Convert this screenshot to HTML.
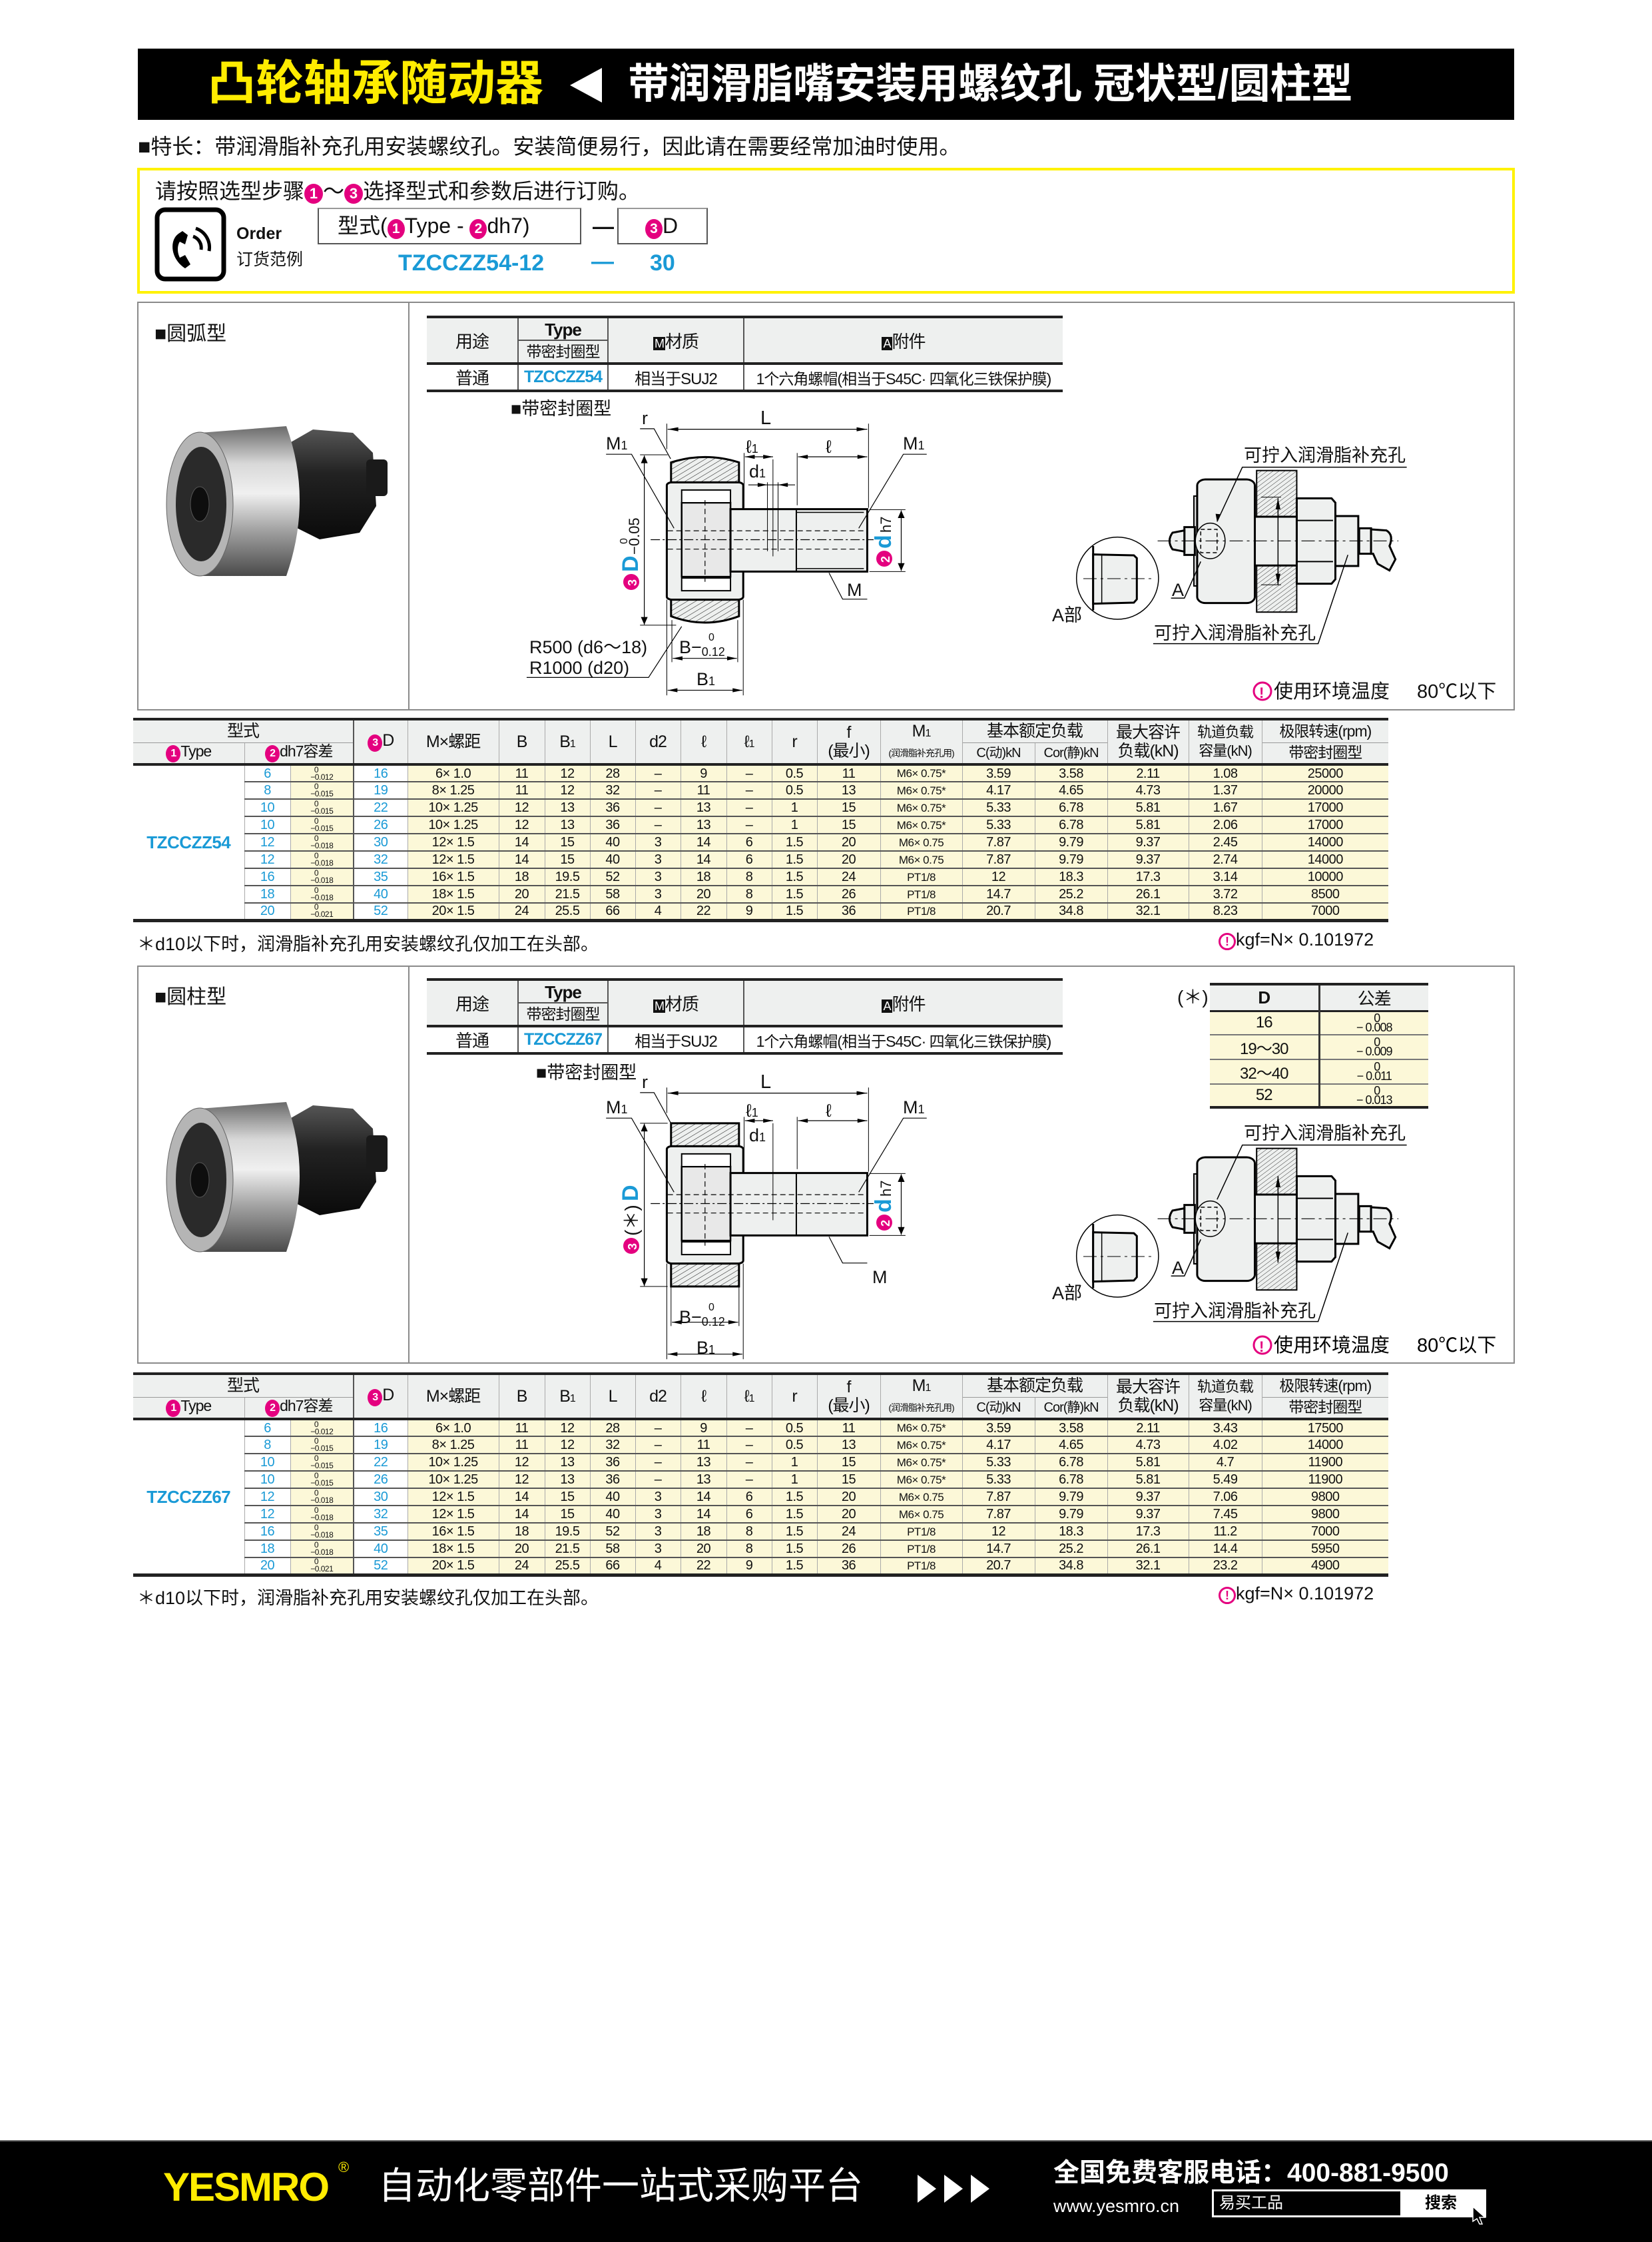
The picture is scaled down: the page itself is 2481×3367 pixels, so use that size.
<!DOCTYPE html>
<html><head><meta charset="utf-8">
<style>
*{margin:0;padding:0;box-sizing:border-box}
body{width:2481px;height:3367px;position:relative;background:#fff;font-family:"Liberation Sans","Noto Sans CJK SC",sans-serif;color:#111;overflow:hidden}
.a{position:absolute;white-space:nowrap}
.n{display:inline-block;border-radius:50%;background:#e4007f;color:#fff;text-align:center;font-weight:bold}
.cy{color:#1a9ad6}
.box{position:absolute;border:2px solid #8a8a8a}
.t{position:absolute;border-collapse:collapse;table-layout:fixed;font-family:"Liberation Sans","Noto Sans CJK SC",sans-serif}
.t td{padding:0;text-align:center;vertical-align:middle;border-left:1px solid #aaa;border-top:2px solid #555;font-size:20px;line-height:1;overflow:hidden;white-space:nowrap;letter-spacing:-0.5px}
.t tr.h td{background:#eef0ef;border-top:none;font-size:25px;letter-spacing:-1px}
.t tr.h2 td{background:#eef0ef;border-top:1px solid #999;font-size:23px;letter-spacing:-1px}
.t td.c{background:#fcf8d8}
.t td.w{background:#fff}
.tol{display:inline-block;font-size:12px;line-height:11px;text-align:left;vertical-align:middle}
.s{font-size:17px!important;letter-spacing:-1px}
.sp{position:absolute;border-collapse:collapse;table-layout:fixed;border-top:4px solid #222;border-bottom:4px solid #222}
.sp td{text-align:center;border-left:2px solid #555;font-size:24px;padding:0;white-space:nowrap;letter-spacing:-1px}
.sp td:first-child{border-left:none}
</style></head><body>

<div class="a" style="left:207px;top:73px;width:2067px;height:107px;background:#000"></div>
<div class="a" style="left:312px;top:84px;font-size:72px;font-weight:bold;color:#ffec00;line-height:84px">凸轮轴承随动器</div>
<svg class="a" style="left:852px;top:98px" width="56" height="60"><polygon points="52,4 52,56 4,30" fill="#fff"/></svg>
<div class="a" style="left:943px;top:91px;font-size:62px;font-weight:bold;color:#fff;line-height:72px">带润滑脂嘴安装用螺纹孔 冠状型/圆柱型</div>

<div class="a" style="left:207px;top:200px;font-size:32px;line-height:40px">■特长：带润滑脂补充孔用安装螺纹孔。安装简便易行，因此请在需要经常加油时使用。</div>

<div class="a" style="left:206px;top:252px;width:2069px;height:189px;border:4px solid #fff200"></div>
<div class="a" style="left:233px;top:268px;font-size:32px;line-height:38px">请按照选型步骤<span class="n" style="width:28px;height:30px;font-size:22px;line-height:30px">1</span>～<span class="n" style="width:28px;height:30px;font-size:22px;line-height:30px">3</span>选择型式和参数后进行订购。</div>
<svg class="a" style="left:232px;top:311px" width="110" height="112"><rect x="4" y="4" width="100" height="104" rx="12" fill="#fff" stroke="#000" stroke-width="7"/><path d="M36,40 C22,50 24,78 46,92 L54,86 L46,72 L38,76 C34,68 34,58 38,52 L46,56 L50,42 L42,36 Z" fill="#000"/><path d="M58,44 A18,18 0 0 1 70,64" fill="none" stroke="#000" stroke-width="5"/><path d="M62,32 A30,30 0 0 1 82,66" fill="none" stroke="#000" stroke-width="5"/></svg>
<div class="a" style="left:355px;top:337px;font-size:25px;font-weight:bold">Order</div>
<div class="a" style="left:355px;top:370px;font-size:25px">订货范例</div>
<div class="a" style="left:477px;top:312px;width:396px;height:55px;border:2px solid #555;border-top-color:#999;font-size:32px;line-height:50px;padding-left:28px">型式(<span class="n" style="width:26px;height:30px;font-size:21px;line-height:30px">1</span>Type - <span class="n" style="width:26px;height:30px;font-size:21px;line-height:30px">2</span>dh7)</div>
<div class="a" style="left:890px;top:322px;font-size:32px;font-weight:bold">—</div>
<div class="a" style="left:927px;top:312px;width:136px;height:55px;border:2px solid #555;border-top-color:#999;font-size:32px;line-height:50px;padding-left:40px"><span class="n" style="width:26px;height:30px;font-size:21px;line-height:30px">3</span>D</div>
<div class="a cy" style="left:598px;top:376px;font-size:34px;font-weight:bold">TZCCZZ54-12</div>
<div class="a cy" style="left:888px;top:374px;font-size:34px;font-weight:bold">—</div>
<div class="a cy" style="left:976px;top:376px;font-size:34px;font-weight:bold">30</div>

<svg width="0" height="0" style="position:absolute">
<defs>
<pattern id="hatch" width="14" height="14" patternUnits="userSpaceOnUse" patternTransform="rotate(45)"><rect width="14" height="14" fill="#eef0ef"/><line x1="0" y1="0" x2="0" y2="14" stroke="#000" stroke-width="2"/></pattern>
<linearGradient id="silver" x1="0" y1="0" x2="0" y2="1"><stop offset="0" stop-color="#6a6a6a"/><stop offset="0.25" stop-color="#d8d8d8"/><stop offset="0.45" stop-color="#f0f0f0"/><stop offset="0.7" stop-color="#a0a0a0"/><stop offset="1" stop-color="#4a4a4a"/></linearGradient>
<linearGradient id="nut" x1="0" y1="0" x2="0" y2="1"><stop offset="0" stop-color="#555"/><stop offset="0.4" stop-color="#222"/><stop offset="1" stop-color="#0a0a0a"/></linearGradient>
<symbol id="photo" viewBox="0 0 700 1100">
<polygon points="430,668 470,645 530,650 560,680 565,760 540,800 480,810 440,790" fill="url(#nut)"/>
<rect x="550" y="690" width="32" height="55" rx="6" fill="#1a1a1a"/>
<path d="M300,650 L430,640 Q470,750 430,865 L300,865 Z" fill="url(#silver)"/>
<ellipse cx="300" cy="757" rx="50" ry="108" fill="#b5b5b5" stroke="#666"/>
<ellipse cx="302" cy="757" rx="38" ry="86" fill="#2a2a2a"/>
<ellipse cx="300" cy="757" rx="14" ry="26" fill="#0e0e0e" stroke="#555"/>
</symbol>
</defs></svg>

<!-- SECTION 1 -->
<div class="box" style="left:206px;top:453px;width:2069px;height:614px"></div>
<div class="a" style="left:613px;top:453px;width:2px;height:614px;background:#8a8a8a"></div>
<div class="a" style="left:232px;top:476px;font-size:30px">■圆弧型</div>
<svg class="a" style="left:0;top:0" width="700" height="1100"><use href="#photo" x="0" y="0" width="700" height="1100"/></svg>

<table class="sp" style="left:641px;top:474px;width:955px">
<colgroup><col style="width:137px"><col style="width:135px"><col style="width:204px"><col style="width:479px"></colgroup>
<tr style="height:68px;background:#eef0ef;border-bottom:4px solid #222"><td style="font-size:26px">用途</td><td style="padding:0"><div style="height:34px;line-height:34px;font-size:26px;font-weight:bold;border-bottom:2px solid #555">Type</div><div style="height:32px;line-height:32px;font-size:23px">带密封圈型</div></td><td style="font-size:26px"><span style="background:#111;color:#fff;font-size:18px;padding:0 2px">M</span>材质</td><td style="font-size:26px"><span style="background:#111;color:#fff;font-size:18px;padding:0 2px">A</span>附件</td></tr>
<tr style="height:40px"><td style="font-size:26px">普通</td><td class="cy" style="font-size:25px;font-weight:bold">TZCCZZ54</td><td>相当于SUJ2</td><td style="font-size:23px">1个六角螺帽(相当于S45C· 四氧化三铁保护膜)</td></tr>
</table>

<svg class="a" style="left:0;top:0" width="2481" height="2200" font-family="Liberation Sans, Noto Sans CJK SC, sans-serif">
<g transform="translate(620,460) scale(0.6378,0.3831)" fill="none" stroke="#000">
<rect x="598" y="690" width="180" height="460" rx="12" fill="#eef0ef" stroke-width="3" vector-effect="non-scaling-stroke"/>
<path d="M608,612 Q688,570 768,612 L768,690 L608,690 Z" fill="url(#hatch)" stroke-width="3" vector-effect="non-scaling-stroke"/>
<path d="M608,1150 L768,1150 L768,1215 Q688,1265 608,1215 Z" fill="url(#hatch)" stroke-width="3" vector-effect="non-scaling-stroke"/>
<rect x="633" y="770" width="115" height="290" fill="#e8e8e8" stroke-width="2.5" vector-effect="non-scaling-stroke"/>
<rect x="633" y="720" width="115" height="50" fill="#fff" stroke-width="2" vector-effect="non-scaling-stroke"/>
<rect x="633" y="1065" width="115" height="50" fill="#fff" stroke-width="2" vector-effect="non-scaling-stroke"/>
<rect x="748" y="795" width="322" height="245" fill="#eef0ef" stroke-width="3" vector-effect="non-scaling-stroke"/>
<line x1="903" y1="795" x2="903" y2="1040" stroke-width="2" vector-effect="non-scaling-stroke"/>
<line x1="903" y1="808" x2="1062" y2="808" stroke-width="1.5" vector-effect="non-scaling-stroke"/>
<line x1="903" y1="1028" x2="1062" y2="1028" stroke-width="1.5" vector-effect="non-scaling-stroke"/>
<line x1="560" y1="915" x2="1085" y2="915" stroke-width="1.2" stroke-dasharray="14,4,3,4" vector-effect="non-scaling-stroke"/>
<line x1="600" y1="880" x2="1065" y2="880" stroke-width="1.2" stroke-dasharray="8,5" vector-effect="non-scaling-stroke"/>
<line x1="600" y1="952" x2="1065" y2="952" stroke-width="1.2" stroke-dasharray="8,5" vector-effect="non-scaling-stroke"/>
<line x1="688" y1="760" x2="688" y2="1080" stroke-width="1.2" stroke-dasharray="8,5" vector-effect="non-scaling-stroke"/>
<line x1="835" y1="690" x2="835" y2="960" stroke-width="1" vector-effect="non-scaling-stroke"/>
<line x1="860" y1="690" x2="860" y2="960" stroke-width="1" vector-effect="non-scaling-stroke"/>
<line x1="848" y1="600" x2="848" y2="980" stroke-width="1" vector-effect="non-scaling-stroke"/>
<line x1="598" y1="460" x2="598" y2="560" stroke-width="1" vector-effect="non-scaling-stroke"/>
<line x1="1073" y1="460" x2="1073" y2="790" stroke-width="1" vector-effect="non-scaling-stroke"/>
<line x1="600" y1="482" x2="1070" y2="482" stroke-width="1.2" vector-effect="non-scaling-stroke"/>
<line x1="780" y1="575" x2="780" y2="790" stroke-width="1" vector-effect="non-scaling-stroke"/>
<line x1="905" y1="575" x2="905" y2="780" stroke-width="1" vector-effect="non-scaling-stroke"/>
<line x1="782" y1="590" x2="848" y2="590" stroke-width="1.2" vector-effect="non-scaling-stroke"/>
<line x1="907" y1="590" x2="1070" y2="590" stroke-width="1.2" vector-effect="non-scaling-stroke"/>
<line x1="790" y1="700" x2="900" y2="700" stroke-width="1.2" vector-effect="non-scaling-stroke"/>
<line x1="535" y1="582" x2="600" y2="582" stroke-width="1" vector-effect="non-scaling-stroke"/>
<line x1="535" y1="1250" x2="620" y2="1250" stroke-width="1" vector-effect="non-scaling-stroke"/>
<line x1="545" y1="585" x2="545" y2="1248" stroke-width="1.2" vector-effect="non-scaling-stroke"/>
<line x1="1075" y1="797" x2="1160" y2="797" stroke-width="1" vector-effect="non-scaling-stroke"/>
<line x1="1075" y1="1040" x2="1160" y2="1040" stroke-width="1" vector-effect="non-scaling-stroke"/>
<line x1="1150" y1="800" x2="1150" y2="1037" stroke-width="1.2" vector-effect="non-scaling-stroke"/>
<line x1="610" y1="1230" x2="610" y2="1395" stroke-width="1" vector-effect="non-scaling-stroke"/>
<line x1="765" y1="1230" x2="765" y2="1395" stroke-width="1" vector-effect="non-scaling-stroke"/>
<line x1="598" y1="1150" x2="598" y2="1525" stroke-width="1" vector-effect="non-scaling-stroke"/>
<line x1="778" y1="1150" x2="778" y2="1525" stroke-width="1" vector-effect="non-scaling-stroke"/>
<line x1="612" y1="1380" x2="763" y2="1380" stroke-width="1.2" vector-effect="non-scaling-stroke"/>
<line x1="600" y1="1505" x2="776" y2="1505" stroke-width="1.2" vector-effect="non-scaling-stroke"/>
<polyline points="455,580 515,580 615,870" stroke-width="1.2" vector-effect="non-scaling-stroke"/>
<polyline points="1210,580 1155,580 1050,870" stroke-width="1.2" vector-effect="non-scaling-stroke"/>
<polyline points="535,480 568,480 607,598" stroke-width="1.2" vector-effect="non-scaling-stroke"/>
<polyline points="1070,1148 1012,1148 980,1045" stroke-width="1.2" vector-effect="non-scaling-stroke"/>
<polyline points="268,1455 555,1455 633,1255" stroke-width="1.2" vector-effect="non-scaling-stroke"/>
<g fill="#000" stroke="none">
<polygon points="600,482 625,474 625,490"/><polygon points="1070,482 1045,474 1045,490"/>
<polygon points="782,590 805,582 805,598"/><polygon points="848,590 825,582 825,598"/>
<polygon points="907,590 930,582 930,598"/><polygon points="1070,590 1047,582 1047,598"/>
<polygon points="835,700 812,692 812,708"/><polygon points="860,700 883,692 883,708"/>
<polygon points="545,585 537,615 553,615"/><polygon points="545,1248 537,1218 553,1218"/>
<polygon points="1150,800 1142,830 1158,830"/><polygon points="1150,1037 1142,1007 1158,1007"/>
<polygon points="612,1380 635,1372 635,1388"/><polygon points="763,1380 740,1372 740,1388"/>
<polygon points="600,1505 623,1497 623,1513"/><polygon points="776,1505 753,1497 753,1513"/>
</g>
</g>
<g font-size="27" fill="#111">
<text x="767" y="623">■带密封圈型</text>
<text x="964" y="637">r</text>
<text x="1142" y="637" font-size="29">L</text>
<text x="910" y="675">M<tspan font-size="18">1</tspan></text>
<text x="1120" y="680">ℓ<tspan font-size="18">1</tspan></text>
<text x="1240" y="680">ℓ</text>
<text x="1356" y="675">M<tspan font-size="18">1</tspan></text>
<text x="1125" y="717">d<tspan font-size="18">1</tspan></text>
<text x="1272" y="895">M</text>
<text x="1020" y="981">B−<tspan font-size="18" dy="4">0.12</tspan></text>
<text x="1064" y="962" font-size="16">0</text>
<text x="1046" y="1029">B<tspan font-size="18">1</tspan></text>
<text x="795" y="981">R500 (d6～18)</text>
<text x="795" y="1012">R1000 (d20)</text>
<g transform="translate(958,885) rotate(-90)"><circle cx="11" cy="-10" r="12" fill="#e4007f"/><text x="5" y="-2" font-size="18" fill="#fff" font-weight="bold">3</text><text x="26" y="0" font-size="34" font-weight="bold" fill="#1a9ad6">D</text><text x="52" y="2" font-size="22">−0.05</text><text x="68" y="-16" font-size="16">0</text></g>
<g transform="translate(1338,850) rotate(-90)"><circle cx="11" cy="-10" r="12" fill="#e4007f"/><text x="5" y="-2" font-size="18" fill="#fff" font-weight="bold">2</text><text x="26" y="0" font-size="34" font-weight="bold" fill="#1a9ad6">d</text><text x="50" y="0" font-size="22">h7</text></g>
</g>

<g transform="translate(1560,640) scale(0.4464,0.3333)" stroke="#000" fill="none">
<rect x="522" y="315" width="14" height="405" fill="#ddd" stroke-width="2" vector-effect="non-scaling-stroke"/>
<rect x="533" y="240" width="194" height="557" rx="28" fill="#eef0ef" stroke-width="3" vector-effect="non-scaling-stroke"/>
<rect x="733" y="200" width="135" height="638" fill="url(#hatch)" stroke-width="2" vector-effect="non-scaling-stroke"/>
<rect x="727" y="408" width="141" height="220" fill="#eef0ef" stroke-width="3" vector-effect="non-scaling-stroke"/>
<path d="M868,325 L985,325 L998,345 L998,690 L985,710 L868,710 Z" fill="#eef0ef" stroke-width="3" vector-effect="non-scaling-stroke"/>
<line x1="868" y1="425" x2="990" y2="425" stroke-width="2" vector-effect="non-scaling-stroke"/>
<line x1="868" y1="610" x2="990" y2="610" stroke-width="2" vector-effect="non-scaling-stroke"/>
<rect x="998" y="405" width="77" height="225" fill="#eef0ef" stroke-width="3" vector-effect="non-scaling-stroke"/>
<rect x="1078" y="460" width="40" height="115" fill="#eef0ef" stroke-width="3" vector-effect="non-scaling-stroke"/>
<path d="M1118,465 L1170,470 Q1195,490 1180,540 L1200,600 L1180,650 L1140,620 L1125,575 L1118,575 Z" fill="#eef0ef" stroke-width="3" vector-effect="non-scaling-stroke"/>
<rect x="490" y="455" width="35" height="125" fill="#eef0ef" stroke-width="3" vector-effect="non-scaling-stroke"/>
<path d="M490,470 L450,480 Q430,517 450,555 L490,565 Z" fill="#eef0ef" stroke-width="3" vector-effect="non-scaling-stroke"/>
<ellipse cx="577" cy="517" rx="50" ry="80" fill="#eef0ef" stroke-width="1.5" vector-effect="non-scaling-stroke"/>
<rect x="545" y="465" width="55" height="105" stroke-dasharray="6,4" stroke-width="1.5" vector-effect="non-scaling-stroke"/>
<line x1="400" y1="517" x2="1210" y2="517" stroke-width="1.2" stroke-dasharray="20,6,4,6" vector-effect="non-scaling-stroke"/>
<line x1="805" y1="325" x2="805" y2="715" stroke-width="1.5" vector-effect="non-scaling-stroke"/>
<line x1="748" y1="320" x2="815" y2="320" stroke-width="1" vector-effect="non-scaling-stroke"/>
<line x1="748" y1="715" x2="815" y2="715" stroke-width="1" vector-effect="non-scaling-stroke"/>
<ellipse cx="265" cy="685" rx="138" ry="185" fill="#fff" stroke-width="1.5" vector-effect="non-scaling-stroke"/>
<line x1="183" y1="540" x2="183" y2="830" stroke-width="3" vector-effect="non-scaling-stroke"/>
<path d="M183,578 L320,582 L330,595 L330,780 L320,795 L183,800 Z" fill="#eef0ef" stroke-width="3" vector-effect="non-scaling-stroke"/>
<line x1="212" y1="582" x2="212" y2="798" stroke-width="1.5" vector-effect="non-scaling-stroke"/>
<line x1="150" y1="687" x2="380" y2="687" stroke-width="1" stroke-dasharray="20,6,4,6" vector-effect="non-scaling-stroke"/>
<polyline points="1238,185 685,185 600,430" stroke-width="1.5" vector-effect="non-scaling-stroke"/>
<polyline points="385,980 940,980 1040,580" stroke-width="1.5" vector-effect="non-scaling-stroke"/>
<polyline points="445,775 490,775 545,610" stroke-width="1.5" vector-effect="non-scaling-stroke"/>
<g fill="#000" stroke="none"><polygon points="805,325 797,375 813,375"/><polygon points="805,715 797,665 813,665"/><polygon points="600,430 595,395 612,397"/></g>
</g>
<g font-size="27" fill="#111">
<text x="1868" y="693">可拧入润滑脂补充孔</text>
<text x="1733" y="960">可拧入润滑脂补充孔</text>
<text x="1760" y="895">A</text>
<text x="1580" y="933">A部</text>
</g>
<g font-size="29" fill="#111">
<circle cx="1896" cy="1038" r="13" fill="none" stroke="#e4007f" stroke-width="3"/><text x="1891" y="1048" font-size="22" fill="#e4007f" font-weight="bold">!</text>
<text x="1913" y="1048">使用环境温度</text><text x="2128" y="1048">80℃以下</text>
</g>
</svg>

<!-- Table 1 -->
<table class="t" style="left:200px;top:1078px;width:1885px;border-top:4px solid #222;border-bottom:5px solid #222">
<colgroup><col style="width:167px"><col style="width:69px"><col style="width:95px"><col style="width:81px"><col style="width:137px"><col style="width:69px"><col style="width:68px"><col style="width:68px"><col style="width:68px"><col style="width:69px"><col style="width:68px"><col style="width:68px"><col style="width:95px"><col style="width:123px"><col style="width:109px"><col style="width:109px"><col style="width:122px"><col style="width:110px"><col style="width:190px"></colgroup>
<tr class="h" style="height:35px"><td colspan="3" style="border-left:none">型式</td><td rowspan="2" style="border-left:2px solid #555"><span class="n" style="width:22px;height:26px;font-size:16px;line-height:26px">3</span>D</td><td rowspan="2">M×螺距</td><td rowspan="2">B</td><td rowspan="2">B<span style="font-size:16px">1</span></td><td rowspan="2">L</td><td rowspan="2">d2</td><td rowspan="2">ℓ</td><td rowspan="2">ℓ<span style="font-size:16px">1</span></td><td rowspan="2">r</td><td rowspan="2" style="line-height:28px">f<br>(最小)</td><td rowspan="2" style="line-height:26px">M<span style="font-size:16px">1</span><br><span style="font-size:14px">(润滑脂补充孔用)</span></td><td colspan="2">基本额定负载</td><td rowspan="2" style="line-height:28px">最大容许<br>负载(kN)</td><td rowspan="2" style="line-height:28px;font-size:22px">轨道负载<br>容量(kN)</td><td style="font-size:23px">极限转速(rpm)</td></tr>
<tr class="h2" style="height:33px"><td style="border-left:none"><span class="n" style="width:22px;height:26px;font-size:16px;line-height:26px">1</span>Type</td><td colspan="2"><span class="n" style="width:22px;height:26px;font-size:16px;line-height:26px">2</span>dh7容差</td><td style="font-size:20px">C(动)kN</td><td style="font-size:20px">Cor(静)kN</td><td>带密封圈型</td></tr>
<tr style="height:26px"><td rowspan="9" class="cy w" style="font-size:26px;font-weight:bold;border-left:none;border-top:4px solid #222">TZCCZZ54</td><td class="cy w" style="border-top:4px solid #222">6</td><td class="c" style="border-top:4px solid #222"><span class="tol">&nbsp;&nbsp;0<br>−0.012</span></td><td class="cy w" style="border-top:4px solid #222;border-left:2px solid #555">16</td><td class="c" style="border-top:4px solid #222">6× 1.0</td><td class="c" style="border-top:4px solid #222">11</td><td class="c" style="border-top:4px solid #222">12</td><td class="c" style="border-top:4px solid #222">28</td><td class="c" style="border-top:4px solid #222">–</td><td class="c" style="border-top:4px solid #222">9</td><td class="c" style="border-top:4px solid #222">–</td><td class="c" style="border-top:4px solid #222">0.5</td><td class="c" style="border-top:4px solid #222">11</td><td class="c s" style="border-top:4px solid #222">M6× 0.75*</td><td class="c" style="border-top:4px solid #222">3.59</td><td class="c" style="border-top:4px solid #222">3.58</td><td class="c" style="border-top:4px solid #222">2.11</td><td class="c" style="border-top:4px solid #222">1.08</td><td class="c" style="border-top:4px solid #222">25000</td></tr>
<tr style="height:26px"><td class="cy w">8</td><td class="c"><span class="tol">&nbsp;&nbsp;0<br>−0.015</span></td><td class="cy w" style="border-left:2px solid #555">19</td><td class="c">8× 1.25</td><td class="c">11</td><td class="c">12</td><td class="c">32</td><td class="c">–</td><td class="c">11</td><td class="c">–</td><td class="c">0.5</td><td class="c">13</td><td class="c s">M6× 0.75*</td><td class="c">4.17</td><td class="c">4.65</td><td class="c">4.73</td><td class="c">1.37</td><td class="c">20000</td></tr>
<tr style="height:26px"><td class="cy w">10</td><td class="c"><span class="tol">&nbsp;&nbsp;0<br>−0.015</span></td><td class="cy w" style="border-left:2px solid #555">22</td><td class="c">10× 1.25</td><td class="c">12</td><td class="c">13</td><td class="c">36</td><td class="c">–</td><td class="c">13</td><td class="c">–</td><td class="c">1</td><td class="c">15</td><td class="c s">M6× 0.75*</td><td class="c">5.33</td><td class="c">6.78</td><td class="c">5.81</td><td class="c">1.67</td><td class="c">17000</td></tr>
<tr style="height:26px"><td class="cy w">10</td><td class="c"><span class="tol">&nbsp;&nbsp;0<br>−0.015</span></td><td class="cy w" style="border-left:2px solid #555">26</td><td class="c">10× 1.25</td><td class="c">12</td><td class="c">13</td><td class="c">36</td><td class="c">–</td><td class="c">13</td><td class="c">–</td><td class="c">1</td><td class="c">15</td><td class="c s">M6× 0.75*</td><td class="c">5.33</td><td class="c">6.78</td><td class="c">5.81</td><td class="c">2.06</td><td class="c">17000</td></tr>
<tr style="height:26px"><td class="cy w">12</td><td class="c"><span class="tol">&nbsp;&nbsp;0<br>−0.018</span></td><td class="cy w" style="border-left:2px solid #555">30</td><td class="c">12× 1.5</td><td class="c">14</td><td class="c">15</td><td class="c">40</td><td class="c">3</td><td class="c">14</td><td class="c">6</td><td class="c">1.5</td><td class="c">20</td><td class="c s">M6× 0.75</td><td class="c">7.87</td><td class="c">9.79</td><td class="c">9.37</td><td class="c">2.45</td><td class="c">14000</td></tr>
<tr style="height:26px"><td class="cy w">12</td><td class="c"><span class="tol">&nbsp;&nbsp;0<br>−0.018</span></td><td class="cy w" style="border-left:2px solid #555">32</td><td class="c">12× 1.5</td><td class="c">14</td><td class="c">15</td><td class="c">40</td><td class="c">3</td><td class="c">14</td><td class="c">6</td><td class="c">1.5</td><td class="c">20</td><td class="c s">M6× 0.75</td><td class="c">7.87</td><td class="c">9.79</td><td class="c">9.37</td><td class="c">2.74</td><td class="c">14000</td></tr>
<tr style="height:26px"><td class="cy w">16</td><td class="c"><span class="tol">&nbsp;&nbsp;0<br>−0.018</span></td><td class="cy w" style="border-left:2px solid #555">35</td><td class="c">16× 1.5</td><td class="c">18</td><td class="c">19.5</td><td class="c">52</td><td class="c">3</td><td class="c">18</td><td class="c">8</td><td class="c">1.5</td><td class="c">24</td><td class="c s">PT1/8</td><td class="c">12</td><td class="c">18.3</td><td class="c">17.3</td><td class="c">3.14</td><td class="c">10000</td></tr>
<tr style="height:26px"><td class="cy w">18</td><td class="c"><span class="tol">&nbsp;&nbsp;0<br>−0.018</span></td><td class="cy w" style="border-left:2px solid #555">40</td><td class="c">18× 1.5</td><td class="c">20</td><td class="c">21.5</td><td class="c">58</td><td class="c">3</td><td class="c">20</td><td class="c">8</td><td class="c">1.5</td><td class="c">26</td><td class="c s">PT1/8</td><td class="c">14.7</td><td class="c">25.2</td><td class="c">26.1</td><td class="c">3.72</td><td class="c">8500</td></tr>
<tr style="height:26px"><td class="cy w">20</td><td class="c"><span class="tol">&nbsp;&nbsp;0<br>−0.021</span></td><td class="cy w" style="border-left:2px solid #555">52</td><td class="c">20× 1.5</td><td class="c">24</td><td class="c">25.5</td><td class="c">66</td><td class="c">4</td><td class="c">22</td><td class="c">9</td><td class="c">1.5</td><td class="c">36</td><td class="c s">PT1/8</td><td class="c">20.7</td><td class="c">34.8</td><td class="c">32.1</td><td class="c">8.23</td><td class="c">7000</td></tr>
</table>
<div class="a" style="left:206px;top:1396px;font-size:27px">＊d10以下时，润滑脂补充孔用安装螺纹孔仅加工在头部。</div>
<div class="a" style="left:1830px;top:1396px;font-size:27px"><span style="display:inline-block;width:26px;height:26px;border:3px solid #e4007f;border-radius:50%;color:#e4007f;font-size:18px;line-height:20px;text-align:center;font-weight:bold">!</span>kgf=N× 0.101972</div>

<!-- SECTION 2 -->
<div class="box" style="left:206px;top:1450px;width:2069px;height:598px"></div>
<div class="a" style="left:613px;top:1450px;width:2px;height:598px;background:#8a8a8a"></div>
<div class="a" style="left:232px;top:1472px;font-size:30px">■圆柱型</div>
<svg class="a" style="left:0;top:1015px" width="700" height="1100"><use href="#photo" x="0" y="0" width="700" height="1100"/></svg>

<table class="sp" style="left:641px;top:1469px;width:955px">
<colgroup><col style="width:137px"><col style="width:135px"><col style="width:204px"><col style="width:479px"></colgroup>
<tr style="height:68px;background:#eef0ef;border-bottom:4px solid #222"><td style="font-size:26px">用途</td><td style="padding:0"><div style="height:34px;line-height:34px;font-size:26px;font-weight:bold;border-bottom:2px solid #555">Type</div><div style="height:32px;line-height:32px;font-size:23px">带密封圈型</div></td><td style="font-size:26px"><span style="background:#111;color:#fff;font-size:18px;padding:0 2px">M</span>材质</td><td style="font-size:26px"><span style="background:#111;color:#fff;font-size:18px;padding:0 2px">A</span>附件</td></tr>
<tr style="height:40px"><td style="font-size:26px">普通</td><td class="cy" style="font-size:25px;font-weight:bold">TZCCZZ67</td><td>相当于SUJ2</td><td style="font-size:23px">1个六角螺帽(相当于S45C· 四氧化三铁保护膜)</td></tr>
</table>

<div class="a" style="left:1768px;top:1476px;font-size:28px">(＊)</div>
<table class="sp" style="left:1817px;top:1476px;width:328px">
<colgroup><col style="width:164px"><col style="width:164px"></colgroup>
<tr style="height:33px;background:#eef0ef;border-bottom:3px solid #222"><td style="font-weight:bold;font-size:26px;border-left:none">D</td><td style="border-left:3px solid #333;font-size:26px">公差</td></tr>
<tr style="height:35px;background:#fcf8d8;border-bottom:2px solid #777"><td>16</td><td style="border-left:3px solid #333;font-size:18px;line-height:14px">&nbsp;&nbsp;0<br>− 0.008</td></tr>
<tr style="height:35px;background:#fcf8d8;border-bottom:2px solid #777"><td>19～30</td><td style="border-left:3px solid #333;font-size:18px;line-height:14px">&nbsp;&nbsp;0<br>− 0.009</td></tr>
<tr style="height:33px;background:#fcf8d8;border-bottom:2px solid #777"><td>32～40</td><td style="border-left:3px solid #333;font-size:18px;line-height:14px">&nbsp;&nbsp;0<br>− 0.011</td></tr>
<tr style="height:35px;background:#fcf8d8"><td>52</td><td style="border-left:3px solid #333;font-size:18px;line-height:14px">&nbsp;&nbsp;0<br>− 0.013</td></tr>
</table>

<svg class="a" style="left:0;top:997px" width="2481" height="1100" font-family="Liberation Sans, Noto Sans CJK SC, sans-serif">
<g transform="translate(620,460) scale(0.6378,0.3831)" fill="none" stroke="#000">
<rect x="598" y="690" width="180" height="460" rx="12" fill="#eef0ef" stroke-width="3" vector-effect="non-scaling-stroke"/>
<path d="M608,600 L768,600 L768,690 L608,690 Z" fill="url(#hatch)" stroke-width="3" vector-effect="non-scaling-stroke"/>
<path d="M608,1150 L768,1150 L768,1240 L608,1240 Z" fill="url(#hatch)" stroke-width="3" vector-effect="non-scaling-stroke"/>
<rect x="633" y="770" width="115" height="290" fill="#e8e8e8" stroke-width="2.5" vector-effect="non-scaling-stroke"/>
<rect x="633" y="720" width="115" height="50" fill="#fff" stroke-width="2" vector-effect="non-scaling-stroke"/>
<rect x="633" y="1065" width="115" height="50" fill="#fff" stroke-width="2" vector-effect="non-scaling-stroke"/>
<rect x="748" y="795" width="322" height="245" fill="#eef0ef" stroke-width="3" vector-effect="non-scaling-stroke"/>
<line x1="903" y1="795" x2="903" y2="1040" stroke-width="2" vector-effect="non-scaling-stroke"/>
<line x1="560" y1="915" x2="1085" y2="915" stroke-width="1.2" stroke-dasharray="14,4,3,4" vector-effect="non-scaling-stroke"/>
<line x1="600" y1="880" x2="1065" y2="880" stroke-width="1.2" stroke-dasharray="8,5" vector-effect="non-scaling-stroke"/>
<line x1="600" y1="952" x2="1065" y2="952" stroke-width="1.2" stroke-dasharray="8,5" vector-effect="non-scaling-stroke"/>
<line x1="688" y1="760" x2="688" y2="1080" stroke-width="1.2" stroke-dasharray="8,5" vector-effect="non-scaling-stroke"/>
<line x1="848" y1="600" x2="848" y2="980" stroke-width="1" vector-effect="non-scaling-stroke"/>
<line x1="598" y1="460" x2="598" y2="560" stroke-width="1" vector-effect="non-scaling-stroke"/>
<line x1="1073" y1="460" x2="1073" y2="790" stroke-width="1" vector-effect="non-scaling-stroke"/>
<line x1="600" y1="482" x2="1070" y2="482" stroke-width="1.2" vector-effect="non-scaling-stroke"/>
<line x1="780" y1="575" x2="780" y2="790" stroke-width="1" vector-effect="non-scaling-stroke"/>
<line x1="905" y1="575" x2="905" y2="780" stroke-width="1" vector-effect="non-scaling-stroke"/>
<line x1="782" y1="590" x2="848" y2="590" stroke-width="1.2" vector-effect="non-scaling-stroke"/>
<line x1="907" y1="590" x2="1070" y2="590" stroke-width="1.2" vector-effect="non-scaling-stroke"/>
<line x1="535" y1="600" x2="600" y2="600" stroke-width="1" vector-effect="non-scaling-stroke"/>
<line x1="535" y1="1240" x2="600" y2="1240" stroke-width="1" vector-effect="non-scaling-stroke"/>
<line x1="545" y1="602" x2="545" y2="1238" stroke-width="1.2" vector-effect="non-scaling-stroke"/>
<line x1="1075" y1="797" x2="1160" y2="797" stroke-width="1" vector-effect="non-scaling-stroke"/>
<line x1="1075" y1="1040" x2="1160" y2="1040" stroke-width="1" vector-effect="non-scaling-stroke"/>
<line x1="1150" y1="800" x2="1150" y2="1037" stroke-width="1.2" vector-effect="non-scaling-stroke"/>
<line x1="608" y1="1240" x2="608" y2="1395" stroke-width="1" vector-effect="non-scaling-stroke"/>
<line x1="768" y1="1240" x2="768" y2="1395" stroke-width="1" vector-effect="non-scaling-stroke"/>
<line x1="598" y1="1150" x2="598" y2="1525" stroke-width="1" vector-effect="non-scaling-stroke"/>
<line x1="778" y1="1150" x2="778" y2="1525" stroke-width="1" vector-effect="non-scaling-stroke"/>
<line x1="610" y1="1380" x2="766" y2="1380" stroke-width="1.2" vector-effect="non-scaling-stroke"/>
<line x1="600" y1="1505" x2="776" y2="1505" stroke-width="1.2" vector-effect="non-scaling-stroke"/>
<polyline points="455,580 515,580 615,870" stroke-width="1.2" vector-effect="non-scaling-stroke"/>
<polyline points="1210,580 1155,580 1050,870" stroke-width="1.2" vector-effect="non-scaling-stroke"/>
<polyline points="535,480 568,480 607,598" stroke-width="1.2" vector-effect="non-scaling-stroke"/>
<polyline points="1070,1148 1012,1148 980,1045" stroke-width="1.2" vector-effect="non-scaling-stroke"/>
<g fill="#000" stroke="none">
<polygon points="600,482 625,474 625,490"/><polygon points="1070,482 1045,474 1045,490"/>
<polygon points="782,590 805,582 805,598"/><polygon points="848,590 825,582 825,598"/>
<polygon points="907,590 930,582 930,598"/><polygon points="1070,590 1047,582 1047,598"/>
<polygon points="545,602 537,632 553,632"/><polygon points="545,1238 537,1208 553,1208"/>
<polygon points="1150,800 1142,830 1158,830"/><polygon points="1150,1037 1142,1007 1158,1007"/>
<polygon points="610,1380 633,1372 633,1388"/><polygon points="766,1380 743,1372 743,1388"/>
<polygon points="600,1505 623,1497 623,1513"/><polygon points="776,1505 753,1497 753,1513"/>
</g>
</g>
<g font-size="27" fill="#111">
<text x="805" y="623">■带密封圈型</text>
<text x="964" y="637">r</text>
<text x="1142" y="637" font-size="29">L</text>
<text x="910" y="675">M<tspan font-size="18">1</tspan></text>
<text x="1120" y="680">ℓ<tspan font-size="18">1</tspan></text>
<text x="1240" y="680">ℓ</text>
<text x="1356" y="675">M<tspan font-size="18">1</tspan></text>
<text x="1125" y="717">d<tspan font-size="18">1</tspan></text>
<text x="1310" y="930">M</text>
<text x="1020" y="990">B−<tspan font-size="18" dy="4">0.12</tspan></text>
<text x="1064" y="971" font-size="16">0</text>
<text x="1046" y="1036">B<tspan font-size="18">1</tspan></text>
<g transform="translate(958,885) rotate(-90)"><circle cx="11" cy="-10" r="12" fill="#e4007f"/><text x="5" y="-2" font-size="18" fill="#fff" font-weight="bold">3</text><text x="26" y="0" font-size="28">(＊)</text><text x="78" y="0" font-size="34" font-weight="bold" fill="#1a9ad6">D</text></g>
<g transform="translate(1338,850) rotate(-90)"><circle cx="11" cy="-10" r="12" fill="#e4007f"/><text x="5" y="-2" font-size="18" fill="#fff" font-weight="bold">2</text><text x="26" y="0" font-size="34" font-weight="bold" fill="#1a9ad6">d</text><text x="50" y="0" font-size="22">h7</text></g>
</g>
</svg>

<svg class="a" style="left:0;top:1018px" width="2481" height="1000" font-family="Liberation Sans, Noto Sans CJK SC, sans-serif">
<g transform="translate(1560,640) scale(0.4464,0.3333)" stroke="#000" fill="none">
<rect x="522" y="315" width="14" height="405" fill="#ddd" stroke-width="2" vector-effect="non-scaling-stroke"/>
<rect x="533" y="240" width="194" height="557" rx="28" fill="#eef0ef" stroke-width="3" vector-effect="non-scaling-stroke"/>
<rect x="733" y="200" width="135" height="638" fill="url(#hatch)" stroke-width="2" vector-effect="non-scaling-stroke"/>
<rect x="727" y="408" width="141" height="220" fill="#eef0ef" stroke-width="3" vector-effect="non-scaling-stroke"/>
<path d="M868,325 L985,325 L998,345 L998,690 L985,710 L868,710 Z" fill="#eef0ef" stroke-width="3" vector-effect="non-scaling-stroke"/>
<line x1="868" y1="425" x2="990" y2="425" stroke-width="2" vector-effect="non-scaling-stroke"/>
<line x1="868" y1="610" x2="990" y2="610" stroke-width="2" vector-effect="non-scaling-stroke"/>
<rect x="998" y="405" width="77" height="225" fill="#eef0ef" stroke-width="3" vector-effect="non-scaling-stroke"/>
<rect x="1078" y="460" width="40" height="115" fill="#eef0ef" stroke-width="3" vector-effect="non-scaling-stroke"/>
<path d="M1118,465 L1170,470 Q1195,490 1180,540 L1200,600 L1180,650 L1140,620 L1125,575 L1118,575 Z" fill="#eef0ef" stroke-width="3" vector-effect="non-scaling-stroke"/>
<rect x="490" y="455" width="35" height="125" fill="#eef0ef" stroke-width="3" vector-effect="non-scaling-stroke"/>
<path d="M490,470 L450,480 Q430,517 450,555 L490,565 Z" fill="#eef0ef" stroke-width="3" vector-effect="non-scaling-stroke"/>
<ellipse cx="577" cy="517" rx="50" ry="80" fill="#eef0ef" stroke-width="1.5" vector-effect="non-scaling-stroke"/>
<rect x="545" y="465" width="55" height="105" stroke-dasharray="6,4" stroke-width="1.5" vector-effect="non-scaling-stroke"/>
<line x1="400" y1="517" x2="1210" y2="517" stroke-width="1.2" stroke-dasharray="20,6,4,6" vector-effect="non-scaling-stroke"/>
<line x1="805" y1="325" x2="805" y2="715" stroke-width="1.5" vector-effect="non-scaling-stroke"/>
<ellipse cx="265" cy="685" rx="138" ry="185" fill="#fff" stroke-width="1.5" vector-effect="non-scaling-stroke"/>
<line x1="183" y1="540" x2="183" y2="830" stroke-width="3" vector-effect="non-scaling-stroke"/>
<path d="M183,578 L320,582 L330,595 L330,780 L320,795 L183,800 Z" fill="#eef0ef" stroke-width="3" vector-effect="non-scaling-stroke"/>
<line x1="212" y1="582" x2="212" y2="798" stroke-width="1.5" vector-effect="non-scaling-stroke"/>
<line x1="150" y1="687" x2="380" y2="687" stroke-width="1" stroke-dasharray="20,6,4,6" vector-effect="non-scaling-stroke"/>
<polyline points="1238,185 685,185 600,430" stroke-width="1.5" vector-effect="non-scaling-stroke"/>
<polyline points="385,980 940,980 1040,580" stroke-width="1.5" vector-effect="non-scaling-stroke"/>
<polyline points="445,775 490,775 545,610" stroke-width="1.5" vector-effect="non-scaling-stroke"/>
<g fill="#000" stroke="none"><polygon points="805,325 797,375 813,375"/><polygon points="805,715 797,665 813,665"/></g>
</g>
<g font-size="27" fill="#111">
<text x="1868" y="693">可拧入润滑脂补充孔</text>
<text x="1733" y="960">可拧入润滑脂补充孔</text>
<text x="1760" y="895">A</text>
<text x="1580" y="933">A部</text>
</g>
</svg>
<svg class="a" style="left:1870px;top:1992px" width="400" height="50" font-family="Liberation Sans, Noto Sans CJK SC, sans-serif">
<circle cx="26" cy="28" r="13" fill="none" stroke="#e4007f" stroke-width="3"/><text x="21" y="38" font-size="22" fill="#e4007f" font-weight="bold">!</text>
<text x="43" y="38" font-size="29">使用环境温度</text><text x="258" y="38" font-size="29">80℃以下</text>
</svg>

<!-- Table 2 -->
<table class="t" style="left:200px;top:2061px;width:1885px;border-top:4px solid #222;border-bottom:5px solid #222">
<colgroup><col style="width:167px"><col style="width:69px"><col style="width:95px"><col style="width:81px"><col style="width:137px"><col style="width:69px"><col style="width:68px"><col style="width:68px"><col style="width:68px"><col style="width:69px"><col style="width:68px"><col style="width:68px"><col style="width:95px"><col style="width:123px"><col style="width:109px"><col style="width:109px"><col style="width:122px"><col style="width:110px"><col style="width:190px"></colgroup>
<tr class="h" style="height:35px"><td colspan="3" style="border-left:none">型式</td><td rowspan="2" style="border-left:2px solid #555"><span class="n" style="width:22px;height:26px;font-size:16px;line-height:26px">3</span>D</td><td rowspan="2">M×螺距</td><td rowspan="2">B</td><td rowspan="2">B<span style="font-size:16px">1</span></td><td rowspan="2">L</td><td rowspan="2">d2</td><td rowspan="2">ℓ</td><td rowspan="2">ℓ<span style="font-size:16px">1</span></td><td rowspan="2">r</td><td rowspan="2" style="line-height:28px">f<br>(最小)</td><td rowspan="2" style="line-height:26px">M<span style="font-size:16px">1</span><br><span style="font-size:14px">(润滑脂补充孔用)</span></td><td colspan="2">基本额定负载</td><td rowspan="2" style="line-height:28px">最大容许<br>负载(kN)</td><td rowspan="2" style="line-height:28px;font-size:22px">轨道负载<br>容量(kN)</td><td style="font-size:23px">极限转速(rpm)</td></tr>
<tr class="h2" style="height:33px"><td style="border-left:none"><span class="n" style="width:22px;height:26px;font-size:16px;line-height:26px">1</span>Type</td><td colspan="2"><span class="n" style="width:22px;height:26px;font-size:16px;line-height:26px">2</span>dh7容差</td><td style="font-size:20px">C(动)kN</td><td style="font-size:20px">Cor(静)kN</td><td>带密封圈型</td></tr>
<tr style="height:26px"><td rowspan="9" class="cy w" style="font-size:26px;font-weight:bold;border-left:none;border-top:4px solid #222">TZCCZZ67</td><td class="cy w" style="border-top:4px solid #222">6</td><td class="c" style="border-top:4px solid #222"><span class="tol">&nbsp;&nbsp;0<br>−0.012</span></td><td class="cy w" style="border-top:4px solid #222;border-left:2px solid #555">16</td><td class="c" style="border-top:4px solid #222">6× 1.0</td><td class="c" style="border-top:4px solid #222">11</td><td class="c" style="border-top:4px solid #222">12</td><td class="c" style="border-top:4px solid #222">28</td><td class="c" style="border-top:4px solid #222">–</td><td class="c" style="border-top:4px solid #222">9</td><td class="c" style="border-top:4px solid #222">–</td><td class="c" style="border-top:4px solid #222">0.5</td><td class="c" style="border-top:4px solid #222">11</td><td class="c s" style="border-top:4px solid #222">M6× 0.75*</td><td class="c" style="border-top:4px solid #222">3.59</td><td class="c" style="border-top:4px solid #222">3.58</td><td class="c" style="border-top:4px solid #222">2.11</td><td class="c" style="border-top:4px solid #222">3.43</td><td class="c" style="border-top:4px solid #222">17500</td></tr>
<tr style="height:26px"><td class="cy w">8</td><td class="c"><span class="tol">&nbsp;&nbsp;0<br>−0.015</span></td><td class="cy w" style="border-left:2px solid #555">19</td><td class="c">8× 1.25</td><td class="c">11</td><td class="c">12</td><td class="c">32</td><td class="c">–</td><td class="c">11</td><td class="c">–</td><td class="c">0.5</td><td class="c">13</td><td class="c s">M6× 0.75*</td><td class="c">4.17</td><td class="c">4.65</td><td class="c">4.73</td><td class="c">4.02</td><td class="c">14000</td></tr>
<tr style="height:26px"><td class="cy w">10</td><td class="c"><span class="tol">&nbsp;&nbsp;0<br>−0.015</span></td><td class="cy w" style="border-left:2px solid #555">22</td><td class="c">10× 1.25</td><td class="c">12</td><td class="c">13</td><td class="c">36</td><td class="c">–</td><td class="c">13</td><td class="c">–</td><td class="c">1</td><td class="c">15</td><td class="c s">M6× 0.75*</td><td class="c">5.33</td><td class="c">6.78</td><td class="c">5.81</td><td class="c">4.7</td><td class="c">11900</td></tr>
<tr style="height:26px"><td class="cy w">10</td><td class="c"><span class="tol">&nbsp;&nbsp;0<br>−0.015</span></td><td class="cy w" style="border-left:2px solid #555">26</td><td class="c">10× 1.25</td><td class="c">12</td><td class="c">13</td><td class="c">36</td><td class="c">–</td><td class="c">13</td><td class="c">–</td><td class="c">1</td><td class="c">15</td><td class="c s">M6× 0.75*</td><td class="c">5.33</td><td class="c">6.78</td><td class="c">5.81</td><td class="c">5.49</td><td class="c">11900</td></tr>
<tr style="height:26px"><td class="cy w">12</td><td class="c"><span class="tol">&nbsp;&nbsp;0<br>−0.018</span></td><td class="cy w" style="border-left:2px solid #555">30</td><td class="c">12× 1.5</td><td class="c">14</td><td class="c">15</td><td class="c">40</td><td class="c">3</td><td class="c">14</td><td class="c">6</td><td class="c">1.5</td><td class="c">20</td><td class="c s">M6× 0.75</td><td class="c">7.87</td><td class="c">9.79</td><td class="c">9.37</td><td class="c">7.06</td><td class="c">9800</td></tr>
<tr style="height:26px"><td class="cy w">12</td><td class="c"><span class="tol">&nbsp;&nbsp;0<br>−0.018</span></td><td class="cy w" style="border-left:2px solid #555">32</td><td class="c">12× 1.5</td><td class="c">14</td><td class="c">15</td><td class="c">40</td><td class="c">3</td><td class="c">14</td><td class="c">6</td><td class="c">1.5</td><td class="c">20</td><td class="c s">M6× 0.75</td><td class="c">7.87</td><td class="c">9.79</td><td class="c">9.37</td><td class="c">7.45</td><td class="c">9800</td></tr>
<tr style="height:26px"><td class="cy w">16</td><td class="c"><span class="tol">&nbsp;&nbsp;0<br>−0.018</span></td><td class="cy w" style="border-left:2px solid #555">35</td><td class="c">16× 1.5</td><td class="c">18</td><td class="c">19.5</td><td class="c">52</td><td class="c">3</td><td class="c">18</td><td class="c">8</td><td class="c">1.5</td><td class="c">24</td><td class="c s">PT1/8</td><td class="c">12</td><td class="c">18.3</td><td class="c">17.3</td><td class="c">11.2</td><td class="c">7000</td></tr>
<tr style="height:26px"><td class="cy w">18</td><td class="c"><span class="tol">&nbsp;&nbsp;0<br>−0.018</span></td><td class="cy w" style="border-left:2px solid #555">40</td><td class="c">18× 1.5</td><td class="c">20</td><td class="c">21.5</td><td class="c">58</td><td class="c">3</td><td class="c">20</td><td class="c">8</td><td class="c">1.5</td><td class="c">26</td><td class="c s">PT1/8</td><td class="c">14.7</td><td class="c">25.2</td><td class="c">26.1</td><td class="c">14.4</td><td class="c">5950</td></tr>
<tr style="height:26px"><td class="cy w">20</td><td class="c"><span class="tol">&nbsp;&nbsp;0<br>−0.021</span></td><td class="cy w" style="border-left:2px solid #555">52</td><td class="c">20× 1.5</td><td class="c">24</td><td class="c">25.5</td><td class="c">66</td><td class="c">4</td><td class="c">22</td><td class="c">9</td><td class="c">1.5</td><td class="c">36</td><td class="c s">PT1/8</td><td class="c">20.7</td><td class="c">34.8</td><td class="c">32.1</td><td class="c">23.2</td><td class="c">4900</td></tr>
</table>
<div class="a" style="left:206px;top:2378px;font-size:27px">＊d10以下时，润滑脂补充孔用安装螺纹孔仅加工在头部。</div>
<div class="a" style="left:1830px;top:2378px;font-size:27px"><span style="display:inline-block;width:26px;height:26px;border:3px solid #e4007f;border-radius:50%;color:#e4007f;font-size:18px;line-height:20px;text-align:center;font-weight:bold">!</span>kgf=N× 0.101972</div>

<!-- Footer -->
<div class="a" style="left:0;top:3214px;width:2481px;height:153px;background:#000;border-top:2px solid #666"></div>
<div class="a" style="left:245px;top:3250px;font-size:60px;font-weight:bold;color:#ffec00;letter-spacing:-2px;line-height:70px">YESMRO</div>
<div class="a" style="left:508px;top:3242px;font-size:22px;color:#ffec00">®</div>
<div class="a" style="left:568px;top:3248px;font-size:56px;color:#fff;line-height:70px">自动化零部件一站式采购平台</div>
<svg class="a" style="left:1376px;top:3262px" width="125" height="50"><polygon points="2,4 30,25 2,46" fill="#fff"/><polygon points="42,4 70,25 42,46" fill="#fff"/><polygon points="82,4 110,25 82,46" fill="#fff"/></svg>
<div class="a" style="left:1582px;top:3240px;font-size:39px;font-weight:bold;color:#fff;line-height:48px">全国免费客服电话：400-881-9500</div>
<div class="a" style="left:1582px;top:3296px;font-size:27px;color:#fff;line-height:34px">www.yesmro.cn</div>
<div class="a" style="left:1820px;top:3288px;width:412px;height:42px;background:#fff"></div>
<div class="a" style="left:1823px;top:3291px;width:280px;height:36px;background:#000;color:#fff;font-size:24px;line-height:36px;padding-left:8px">易买工品</div>
<div class="a" style="left:2140px;top:3292px;font-size:24px;color:#000;line-height:34px;font-weight:bold">搜索</div>
<svg class="a" style="left:2210px;top:3312px" width="24" height="30"><polygon points="2,2 20,18 12,18 16,28 12,28 8,20 2,24" fill="#000" stroke="#fff" stroke-width="1.5"/></svg>

</body></html>
